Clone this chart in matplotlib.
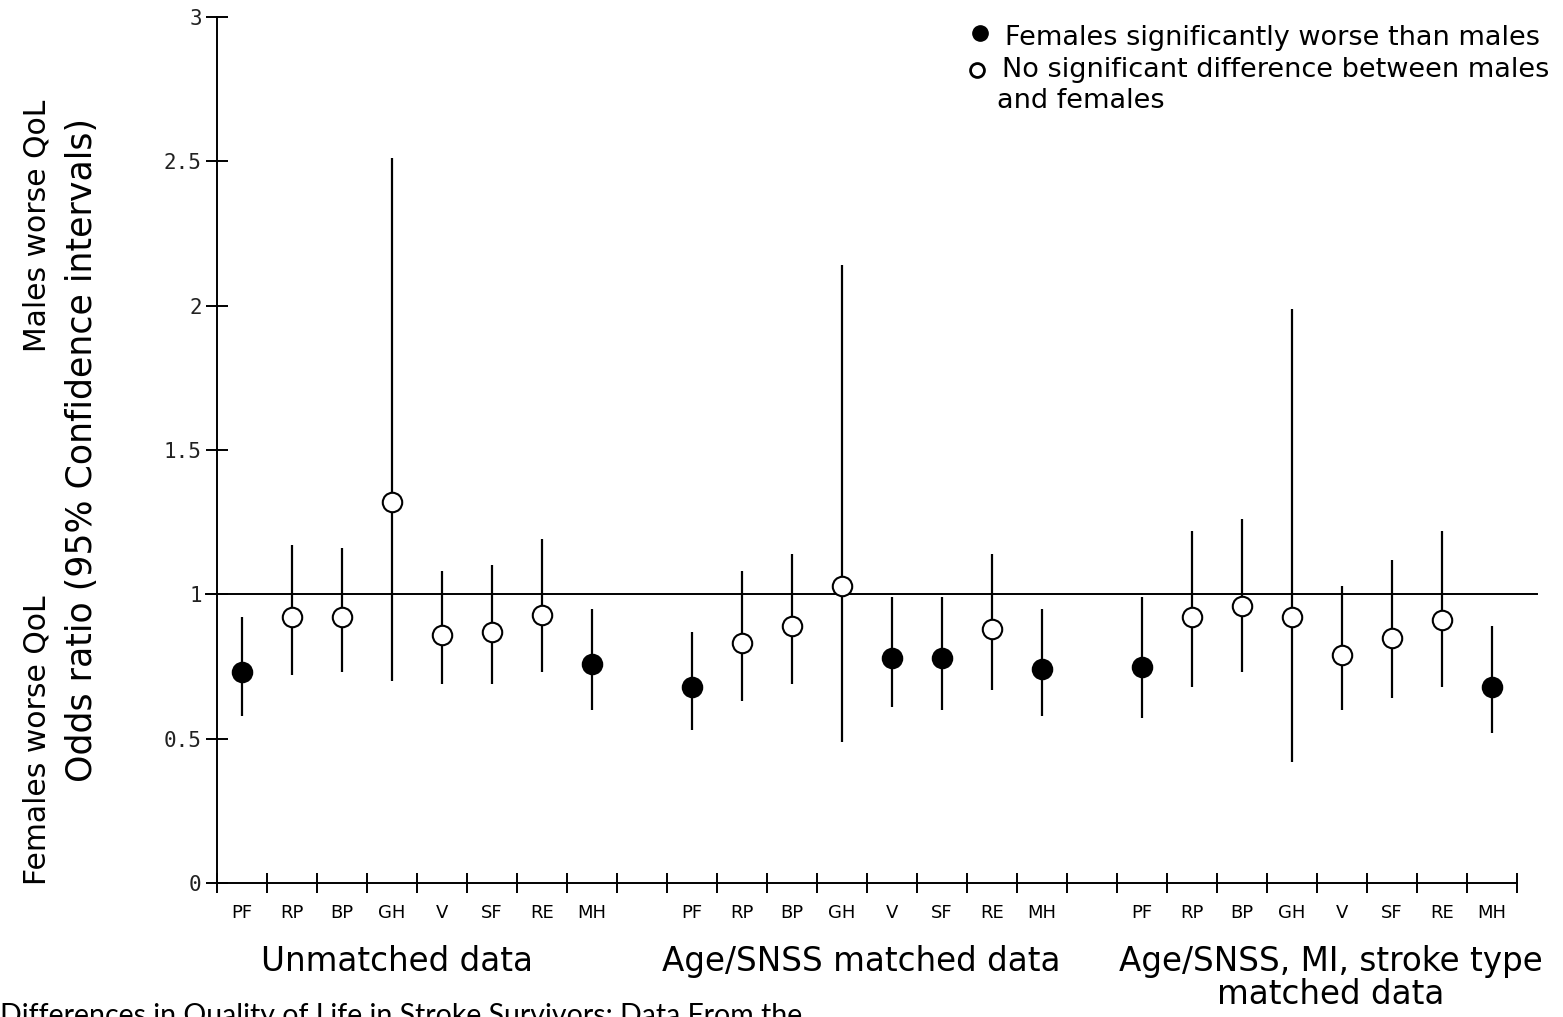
import matplotlib.pyplot as plt
from matplotlib.transforms import blended_transform_factory
import numpy as np

# SF-36 domains, repeated for the three analyses
domains = ['PF', 'RP', 'BP', 'GH', 'V', 'SF', 'RE', 'MH']
groups = ['Unmatched data', 'Age/SNSS matched data',
          'Age/SNSS, MI, stroke type\nmatched data']

# odds ratios with 95% CI, one list per analysis
or_unmatched = [0.73, 0.92, 0.92, 1.32, 0.86, 0.87, 0.93, 0.76]
lo_unmatched = [0.58, 0.72, 0.73, 0.70, 0.69, 0.69, 0.73, 0.60]
hi_unmatched = [0.92, 1.17, 1.16, 2.51, 1.08, 1.10, 1.19, 0.95]
sig_unmatched = [True, False, False, False, False, False, False, True]

or_age = [0.68, 0.83, 0.89, 1.03, 0.78, 0.78, 0.88, 0.74]
lo_age = [0.53, 0.63, 0.69, 0.49, 0.61, 0.60, 0.67, 0.58]
hi_age = [0.87, 1.08, 1.14, 2.14, 0.99, 0.99, 1.14, 0.95]
sig_age = [True, False, False, False, True, True, False, True]

or_full = [0.75, 0.92, 0.96, 0.92, 0.79, 0.85, 0.91, 0.68]
lo_full = [0.57, 0.68, 0.73, 0.42, 0.60, 0.64, 0.68, 0.52]
hi_full = [0.99, 1.22, 1.26, 1.99, 1.03, 1.12, 1.22, 0.89]
sig_full = [True, False, False, False, False, False, False, True]

series = [(or_unmatched, lo_unmatched, hi_unmatched, sig_unmatched),
          (or_age, lo_age, hi_age, sig_age),
          (or_full, lo_full, hi_full, sig_full)]

fig = plt.figure(figsize=(15.63, 10.17), dpi=100)
ax = fig.add_axes([217 / 1563, 134 / 1017, 1320 / 1563, 866 / 1017])

slot = len(domains) + 1
xlabels_pos = []
xlabels_txt = []
for g, (ors, lo, hi, sig) in enumerate(series):
    x = g * slot + np.arange(len(domains)) + 0.5
    ors = np.array(ors)
    lo = np.array(lo)
    hi = np.array(hi)
    ax.vlines(x, lo, hi, color='black', lw=1.6, zorder=2)
    for xi, yi, s in zip(x, ors, sig):
        ax.plot(xi, yi, 'o', ms=14, mec='black', mew=1.5,
                mfc='black' if s else 'white', zorder=3)
    xlabels_pos += list(x)
    xlabels_txt += domains

ax.axhline(1, xmin=-0.008, xmax=1, color='black', lw=1.4, zorder=1, clip_on=False)

ax.set_xlim(0, 26.4)
ax.set_ylim(0, 3)
for s in ['top', 'right']:
    ax.spines[s].set_visible(False)
ax.spines['bottom'].set_bounds(0, 26)
ax.spines['left'].set_linewidth(1.4)
ax.spines['bottom'].set_linewidth(1.4)

ax.set_xticks(np.arange(0, 27))
ax.set_xticklabels([])
ax.set_xticks(xlabels_pos, minor=True)
ax.set_xticklabels(xlabels_txt, minor=True, fontsize=13)
ax.tick_params(axis='x', which='major', direction='inout', length=14, width=1.4)
ax.tick_params(axis='x', which='minor', length=0, pad=15)

ax.set_yticks([0, 0.5, 1, 1.5, 2, 2.5, 3])
ax.set_yticklabels(['0', '0.5', '1', '1.5', '2', '2.5', '3'],
                   family='DejaVu Sans Mono', fontsize=15, color='#222222')
ax.tick_params(axis='y', direction='inout', length=16, width=1.4, pad=3)

# group labels under the axis
trans = blended_transform_factory(ax.transData, ax.transAxes)
group_x = [3.6, 12.88, 22.28]
for gx, name in zip(group_x, groups):
    ax.text(gx, -0.072, name, transform=trans, ha='center', va='top',
            fontsize=23.5, linespacing=1.0)

# y axis labels
fig.text(37 / 1563, 1 - 885 / 1017, 'Females worse QoL', rotation=90,
         ha='center', va='bottom', fontsize=21.5)
fig.text(37 / 1563, 1 - 100 / 1017, 'Males worse QoL', rotation=90,
         ha='center', va='top', fontsize=21.5)
fig.text(82 / 1563, 1 - 450 / 1017, 'Odds ratio (95% Confidence intervals)',
         rotation=90, ha='center', va='center', fontsize=25)

# legend
ax.plot(980 / 1563, 1 - 33 / 1017, 'o', ms=11, mfc='black', mec='black',
        transform=fig.transFigure, clip_on=False)
ax.plot(977 / 1563, 1 - 70 / 1017, 'o', ms=10, mfc='white', mec='black', mew=2,
        transform=fig.transFigure, clip_on=False)
fig.text(1005 / 1563, 1 - 38 / 1017, 'Females significantly worse than males',
         ha='left', va='center', fontsize=19.5)
fig.text(1002 / 1563, 1 - 70 / 1017, 'No significant difference between males',
         ha='left', va='center', fontsize=19.5)
fig.text(997 / 1563, 1 - 101 / 1017, 'and females',
         ha='left', va='center', fontsize=19.5)

# caption cut off at the bottom edge
fig.text(0, 1 - 1003 / 1017,
         'Differences in Quality of Life in Stroke Survivors: Data From the',
         ha='left', va='top', fontsize=20.5, family='Lato')

fig.savefig('out.png', dpi=100)
